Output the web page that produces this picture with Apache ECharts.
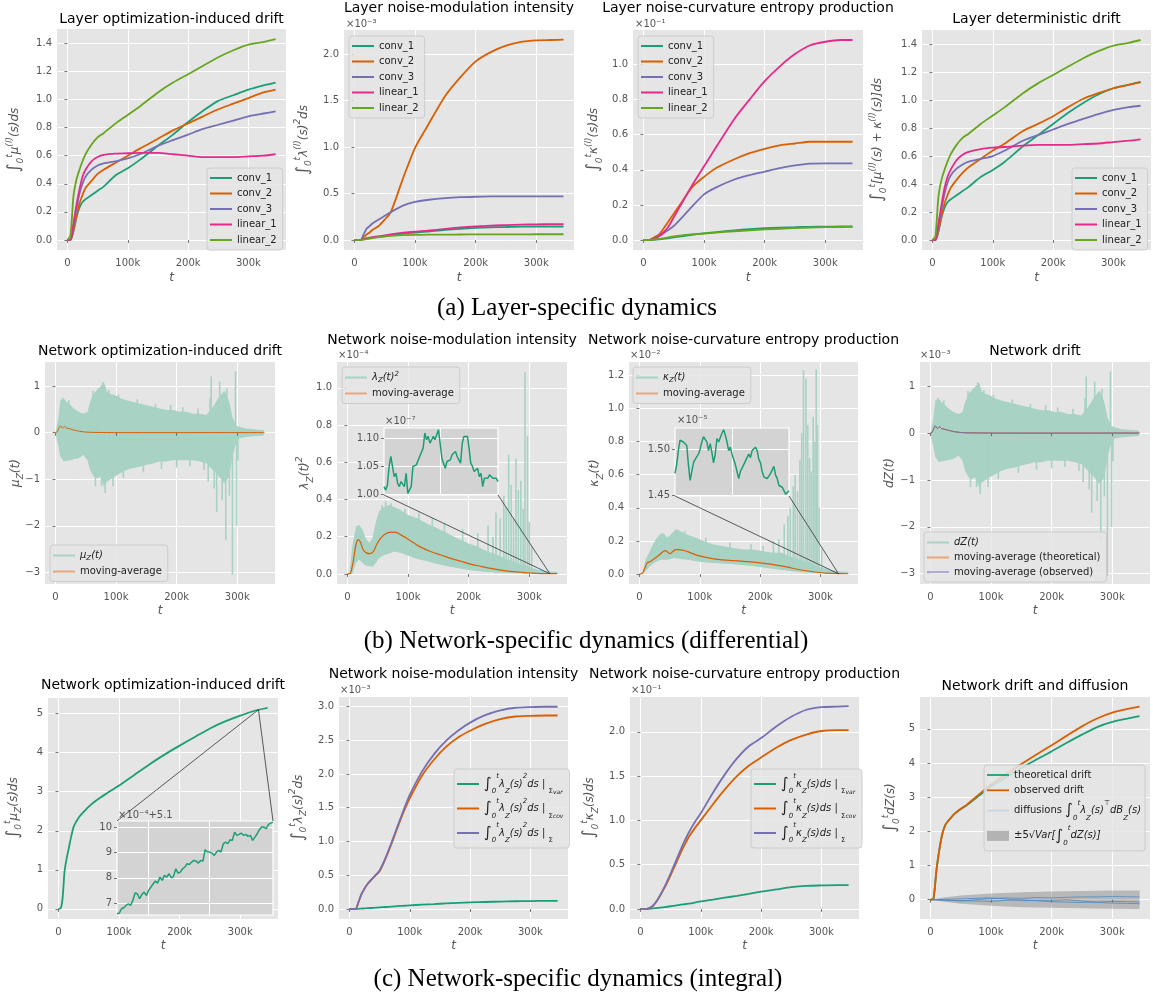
<!DOCTYPE html>
<html><head><meta charset="utf-8">
<script src="https://cdn.jsdelivr.net/npm/echarts@6.0.0/dist/echarts.min.js"></script>
<style>html,body{margin:0;padding:0;background:#fff;}#chart{width:1153px;height:996px;}</style>
</head><body><div id="chart"></div>
<script>
// ================= DATA =================
const X_TICKS = [0, 100000, 200000, 300000];

// ---- (a) layer-specific, common time grid ----
const T_LAYER = [0,5e3,10e3,15e3,20e3,25e3,30e3,40e3,50e3,60e3,80e3,100e3,120e3,150e3,175e3,200e3,225e3,250e3,275e3,300e3,325e3,345e3];
const MU_CONV1 = [0,0,0.06,0.16,0.23,0.27,0.29,0.32,0.35,0.38,0.46,0.51,0.57,0.67,0.75,0.84,0.92,0.99,1.03,1.07,1.10,1.12];
const MU_CONV2 = [0,0,0.07,0.17,0.26,0.32,0.37,0.42,0.47,0.50,0.55,0.60,0.65,0.72,0.78,0.83,0.88,0.93,0.97,1.01,1.05,1.07];
const MU_CONV3 = [0,0,0.10,0.22,0.33,0.40,0.45,0.50,0.53,0.545,0.56,0.58,0.61,0.67,0.71,0.75,0.79,0.82,0.85,0.88,0.90,0.915];
const MU_LIN1  = [0,0,0.12,0.25,0.36,0.45,0.50,0.56,0.59,0.605,0.615,0.617,0.62,0.62,0.61,0.60,0.59,0.59,0.59,0.595,0.60,0.61];
const MU_LIN2  = [0,0.03,0.31,0.43,0.50,0.56,0.61,0.68,0.73,0.76,0.83,0.89,0.95,1.05,1.12,1.18,1.24,1.30,1.35,1.39,1.41,1.43];

const LAM_CONV1 = [0,0,0,0.01,0.015,0.02,0.025,0.035,0.04,0.05,0.07,0.08,0.09,0.11,0.12,0.13,0.137,0.14,0.143,0.145,0.145,0.145];
const LAM_CONV2 = [0,0,0,0.03,0.06,0.08,0.11,0.15,0.22,0.30,0.66,0.99,1.22,1.55,1.75,1.92,2.02,2.09,2.13,2.147,2.15,2.153];
const LAM_CONV3 = [0,0,0,0.06,0.12,0.15,0.18,0.22,0.26,0.30,0.37,0.41,0.43,0.45,0.46,0.465,0.468,0.47,0.47,0.47,0.47,0.47];
const LAM_LIN1  = [0,0,0,0.01,0.02,0.025,0.03,0.04,0.05,0.06,0.08,0.09,0.10,0.12,0.135,0.145,0.155,0.16,0.165,0.168,0.17,0.17];
const LAM_LIN2  = [0,0,0,0.005,0.01,0.015,0.02,0.03,0.04,0.045,0.052,0.055,0.057,0.058,0.059,0.06,0.06,0.061,0.061,0.062,0.062,0.062];

const KAP_CONV1 = [0,0,0,0.001,0.002,0.003,0.005,0.01,0.015,0.02,0.03,0.038,0.045,0.055,0.062,0.067,0.071,0.073,0.075,0.076,0.077,0.077];
const KAP_CONV2 = [0,0,0,0.01,0.02,0.03,0.05,0.10,0.15,0.20,0.30,0.36,0.41,0.46,0.495,0.52,0.54,0.55,0.56,0.56,0.56,0.56];
const KAP_CONV3 = [0,0,0,0.005,0.01,0.02,0.03,0.055,0.08,0.115,0.19,0.26,0.30,0.345,0.37,0.39,0.41,0.425,0.435,0.437,0.437,0.437];
const KAP_LIN1  = [0,0,0,0.005,0.01,0.02,0.035,0.07,0.13,0.19,0.31,0.42,0.53,0.69,0.80,0.905,0.99,1.06,1.11,1.13,1.14,1.14];
const KAP_LIN2  = [0,0,0,0.002,0.004,0.006,0.008,0.014,0.02,0.025,0.032,0.037,0.042,0.05,0.055,0.06,0.064,0.068,0.071,0.073,0.074,0.075];

const DET_CONV1 = [0,0,0.06,0.16,0.23,0.27,0.29,0.32,0.35,0.38,0.45,0.50,0.56,0.67,0.75,0.83,0.91,0.98,1.04,1.085,1.11,1.13];
const DET_CONV2 = [0,0,0.07,0.17,0.26,0.32,0.37,0.43,0.48,0.52,0.58,0.64,0.69,0.78,0.83,0.885,0.95,1.01,1.05,1.085,1.11,1.127];
const DET_CONV3 = [0,0,0.10,0.22,0.33,0.41,0.46,0.51,0.54,0.56,0.58,0.60,0.64,0.71,0.75,0.79,0.83,0.866,0.90,0.93,0.95,0.96];
const DET_LIN1  = [0,0,0.12,0.25,0.37,0.45,0.50,0.57,0.61,0.63,0.65,0.66,0.665,0.675,0.68,0.68,0.68,0.685,0.69,0.70,0.71,0.72];
const DET_LIN2  = [0,0.03,0.31,0.43,0.50,0.56,0.61,0.68,0.73,0.76,0.83,0.89,0.95,1.05,1.12,1.18,1.24,1.30,1.35,1.39,1.41,1.43];

// ---- (b) network, differential: noisy envelopes, spikes [t, from, to], moving averages ----
const MUZ_T  = [0,5e3,8e3,14e3,19e3,25e3,30e3,38e3,46e3,53e3,57e3,63e3,68e3,74e3,80e3,85e3,90e3,98e3,107e3,117e3,128e3,139e3,150e3,161e3,172e3,183e3,194e3,205e3,216e3,227e3,238e3,249e3,260e3,270e3,279e3,287e3,292e3,298e3,303e3,314e3,331e3,344e3];
const MUZ_UP = [0,0.34,0.70,0.73,0.66,0.59,0.52,0.45,0.41,0.45,0.66,0.84,0.91,0.99,1.09,0.88,0.84,0.81,0.74,0.70,0.66,0.63,0.59,0.56,0.52,0.49,0.49,0.45,0.45,0.41,0.41,0.38,0.56,0.77,0.91,0.66,0.34,0.16,0.13,0.09,0.07,0.06];
const MUZ_LO = [0,-0.30,-0.51,-0.62,-0.60,-0.59,-0.57,-0.55,-0.48,-0.59,-0.80,-0.94,-0.98,-0.94,-1.16,-1.05,-1.01,-0.94,-0.87,-0.80,-0.76,-0.73,-0.69,-0.66,-0.62,-0.62,-0.59,-0.59,-0.59,-0.59,-0.62,-0.66,-0.80,-0.94,-1.09,-0.94,-0.51,-0.23,-0.12,-0.09,-0.07,-0.06];
const MUZ_SPIKES = [[12e3,0,0.75],[22e3,0,0.70],[62e3,0,0.90],[70e3,0,0.95],[78e3,0,1.08],[82e3,0,-1.30],[76e3,0,-1.15],[66e3,0,-1.15],[95e3,0,-1.15],[88e3,0,0.92],[104e3,0,0.82],[112e3,0,-0.98],[135e3,0,0.72],[145e3,0,-0.85],[165e3,0,0.62],[175e3,0,-0.78],[190e3,0,0.60],[200e3,0,-0.75],[210e3,0,0.55],[222e3,0,-0.72],[235e3,0,0.52],[245e3,0,-0.80],[252e3,0,-1.05],[255e3,0,0.75],[257e3,0,1.21],[262e3,0,-1.20],[266e3,0,-1.70],[271e3,0,1.10],[275e3,0,-1.45],[281e3,0,-2.30],[283e3,0,0.95],[287e3,0,-1.35],[292e3,0,-3.05],[297e3,0,1.32],[299e3,0,-2.00],[301e3,0,-0.60]];
const MUZ_MA_T = [0,3e3,5e3,8e3,10e3,12e3,15e3,18e3,22e3,27e3,33e3,40e3,50e3,60e3,80e3,100e3,150e3,200e3,250e3,300e3,345e3];
const MUZ_MA   = [0,0.02,0.08,0.15,0.12,0.10,0.14,0.10,0.09,0.07,0.05,0.03,0.015,0.008,0.005,0.003,0.002,0.002,0.003,0.003,0.003];

const LAMZ_T  = [3e3,8e3,14e3,19e3,25e3,30e3,36e3,41e3,47e3,52e3,60e3,69e3,77e3,88e3,100e3,115e3,132e3,148e3,165e3,181e3,198e3,214e3,231e3,247e3,264e3,280e3,297e3,313e3,330e3,346e3];
const LAMZ_UP = [0,0.148,0.255,0.264,0.237,0.192,0.166,0.19,0.28,0.335,0.36,0.37,0.36,0.344,0.317,0.30,0.27,0.246,0.219,0.192,0.166,0.148,0.121,0.103,0.077,0.059,0.041,0.023,0.014,0.011];
const LAMZ_LO = [0,0,0.059,0.077,0.059,0.045,0.041,0.037,0.059,0.085,0.10,0.11,0.121,0.112,0.098,0.080,0.068,0.053,0.041,0.032,0.023,0.016,0.011,0.007,0.005,0.004,0.004,0.003,0.002,0.002];
const LAMZ_SPIKES = [[57e3,0.15,0.37],[63e3,0.15,0.39],[72e3,0.16,0.38],[95e3,0.15,0.35],[118e3,0.12,0.33],[140e3,0.1,0.30],[160e3,0.08,0.27],[190e3,0.06,0.24],[215e3,0.04,0.22],[232e3,0.03,0.26],[240e3,0.02,0.20],[245e3,0.02,0.33],[252e3,0.01,0.30],[258e3,0.01,0.42],[262e3,0.01,0.36],[266e3,0.01,0.64],[270e3,0.01,0.48],[274e3,0.01,0.30],[278e3,0.01,0.62],[282e3,0.01,0.45],[286e3,0.01,0.50],[290e3,0.01,0.35],[293e3,0.01,1.085],[297e3,0.01,0.74],[300e3,0.01,0.28],[304e3,0.01,0.15]];
const LAMZ_MA_T = [0,5e3,10e3,14e3,18e3,22e3,26e3,32e3,37e3,43e3,48e3,55e3,63e3,71e3,80e3,88e3,99e3,110e3,121e3,137e3,154e3,170e3,187e3,203e3,220e3,236e3,253e3,269e3,286e3,302e3,324e3,346e3];
const LAMZ_MA   = [0,0.005,0.077,0.157,0.184,0.166,0.13,0.112,0.109,0.121,0.157,0.192,0.216,0.225,0.223,0.21,0.189,0.166,0.144,0.121,0.102,0.084,0.068,0.053,0.041,0.030,0.021,0.014,0.009,0.005,0.002,0.002];
const LAMZ_INSET = [1.0139,1.0078,1.0169,1.05,1.068,1.065,1.032,1.038,1.020,1.014,1.023,1.020,1.014,1.038,1.002,0.999,1.014,1.050,1.047,1.053,1.050,1.068,1.071,1.083,1.110,1.098,1.104,1.092,1.098,1.104,1.098,1.107,1.116,1.092,1.065,1.056,1.047,1.059,1.056,1.062,1.071,1.068,1.077,1.068,1.062,1.056,1.092,1.104,1.107,1.104,1.083,1.056,1.050,1.041,1.044,1.047,1.032,1.038,1.014,1.029,1.032,1.029,1.035,1.032,1.029,1.026,1.029,1.023];

const KAPZ_UP_T = [5e3,10e3,16e3,21e3,27e3,32e3,38e3,42e3,46e3,52e3,57e3,63e3,68e3,79e3,93e3,107e3,123e3,140e3,156e3,173e3,189e3,205e3,222e3,236e3,249e3,266e3,282e3,299e3,315e3,332e3,346e3];
const KAPZ_UP   = [0,0.087,0.128,0.168,0.208,0.233,0.249,0.239,0.219,0.239,0.259,0.269,0.259,0.239,0.219,0.198,0.178,0.168,0.158,0.148,0.148,0.138,0.128,0.128,0.107,0.087,0.067,0.043,0.026,0.016,0.014];
const KAPZ_LO_T = [5e3,10e3,16e3,24e3,35e3,46e3,57e3,68e3,85e3,101e3,123e3,151e3,178e3,205e3,233e3,260e3,288e3,315e3,346e3];
const KAPZ_LO   = [0,0.016,0.043,0.067,0.087,0.087,0.097,0.091,0.083,0.073,0.067,0.061,0.051,0.040,0.026,0.014,0.006,0.004,0.002];
const KAPZ_SPIKES = [[60e3,0.15,0.27],[75e3,0.15,0.26],[110e3,0.12,0.22],[150e3,0.1,0.19],[185e3,0.08,0.18],[205e3,0.07,0.17],[222e3,0.06,0.20],[231e3,0.05,0.21],[240e3,0.04,0.30],[246e3,0.03,0.35],[250e3,0.03,0.40],[255e3,0.02,0.53],[258e3,0.02,0.60],[262e3,0.02,0.50],[266e3,0.02,0.69],[269e3,0.01,0.85],[272e3,0.01,1.23],[276e3,0.01,1.18],[279e3,0.01,0.90],[282e3,0.01,0.70],[285e3,0.01,0.62],[288e3,0.01,0.95],[291e3,0.01,0.80],[293e3,0.01,1.235],[295e3,0.01,0.90],[298e3,0.01,0.40],[302e3,0.01,0.15]];
const KAPZ_MA_T = [0,5e3,9e3,13e3,19e3,24e3,30e3,35e3,40e3,43e3,47e3,51e3,54e3,60e3,65e3,74e3,85e3,98e3,112e3,134e3,156e3,178e3,200e3,222e3,244e3,266e3,288e3,310e3,346e3];
const KAPZ_MA   = [0,0.006,0.036,0.067,0.077,0.091,0.107,0.123,0.138,0.142,0.132,0.123,0.132,0.148,0.148,0.142,0.128,0.111,0.099,0.087,0.081,0.075,0.067,0.057,0.043,0.026,0.014,0.006,0.002];
const KAPZ_INSET = [1.4740,1.4836,1.4989,1.5103,1.5122,1.5084,1.5103,1.5046,1.4836,1.4664,1.4760,1.4855,1.4893,1.4874,1.4950,1.5008,1.5084,1.5141,1.5122,1.5084,1.4989,1.5065,1.4969,1.4855,1.4950,1.5122,1.5084,1.5103,1.5179,1.5218,1.5160,1.5084,1.4989,1.5027,1.4950,1.4931,1.4836,1.4760,1.4683,1.4760,1.4798,1.4836,1.4874,1.4893,1.4950,1.4912,1.4989,1.4969,1.5027,1.4989,1.4893,1.4855,1.4760,1.4702,1.4721,1.4683,1.4702,1.4740,1.4760,1.4817,1.4721,1.4683,1.4607,1.4626,1.4588,1.4569,1.4511,1.4492,1.4550];

// network drift dZ(t) (visually the same signal as mu_Z)
const DZ_T = MUZ_T, DZ_UP = MUZ_UP, DZ_LO = MUZ_LO, DZ_SPIKES = MUZ_SPIKES;
const DZ_MA_T   = MUZ_MA_T;
const DZ_MA_THEO = [0,0.02,0.08,0.15,0.12,0.10,0.14,0.10,0.09,0.07,0.05,0.03,0.015,0.008,0.005,0.003,0.002,0.002,0.003,0.003,0.003];
const DZ_MA_OBS  = [0,0.02,0.08,0.16,0.12,0.10,0.14,0.10,0.09,0.07,0.05,0.03,0.015,0.008,0.005,0.003,0.002,0.002,0.002,0.003,0.003];

// ---- (c) network, integral ----
const NETMU_T = [0,4e3,7e3,10e3,13e3,17e3,21e3,25e3,30e3,35e3,40e3,50e3,60e3,70e3,80e3,100e3,125e3,150e3,175e3,200e3,225e3,250e3,275e3,300e3,325e3,345e3];
const NETMU   = [0,0.02,0.3,0.95,1.25,1.55,1.85,2.1,2.25,2.37,2.46,2.62,2.75,2.86,2.96,3.16,3.43,3.70,3.95,4.18,4.40,4.62,4.80,4.95,5.08,5.15];
const NETMU_INSET = [6.579,6.605,6.776,6.816,6.908,6.974,6.908,7.105,7.395,7.368,7.171,7.342,7.434,7.303,7.500,7.632,7.763,7.868,7.789,8.026,7.895,8.092,8.026,8.158,8.000,8.053,8.355,8.184,8.224,8.355,8.421,8.553,8.526,8.618,8.684,8.658,8.579,8.684,8.658,9.105,9.013,9.013,8.974,8.882,9.013,9.079,9.013,9.342,9.408,9.342,9.500,9.474,9.803,9.671,9.711,9.763,9.671,9.711,9.632,9.671,9.474,9.605,9.737,9.895,10.000,10.000,9.934,10.105,10.158,10.197];

const T_INT = [0,5e3,10e3,15e3,20e3,25e3,30e3,40e3,50e3,60e3,70e3,80e3,90e3,100e3,120e3,140e3,160e3,180e3,200e3,225e3,250e3,275e3,300e3,325e3,345e3];
const LAMINT_VAR   = [0,0,0,0.003,0.006,0.009,0.012,0.018,0.024,0.03,0.036,0.042,0.048,0.054,0.064,0.073,0.082,0.09,0.097,0.104,0.11,0.115,0.118,0.12,0.12];
const LAMINT_COV   = [0,0,0,0.1,0.22,0.3,0.37,0.47,0.56,0.75,0.97,1.21,1.44,1.64,1.97,2.21,2.40,2.54,2.64,2.74,2.81,2.85,2.86,2.865,2.865];
const LAMINT_SIGMA = [0,0,0,0.1,0.22,0.3,0.37,0.47,0.57,0.76,0.99,1.23,1.47,1.69,2.03,2.29,2.49,2.64,2.76,2.87,2.94,2.98,2.99,2.995,2.995];
const KAPINT_VAR   = [0,0,0,0.002,0.005,0.008,0.012,0.02,0.03,0.04,0.05,0.06,0.072,0.085,0.105,0.127,0.148,0.17,0.195,0.22,0.245,0.26,0.265,0.268,0.268];
const KAPINT_COV   = [0,0,0,0.01,0.03,0.07,0.12,0.24,0.38,0.53,0.68,0.81,0.91,1.0,1.18,1.35,1.50,1.62,1.71,1.82,1.91,1.97,2.01,2.02,2.02];
const KAPINT_SIGMA = [0,0,0,0.01,0.03,0.07,0.12,0.25,0.40,0.56,0.72,0.86,0.98,1.08,1.31,1.52,1.70,1.84,1.93,2.06,2.17,2.25,2.28,2.285,2.29];

const T_NET = [0,5e3,10e3,15e3,20e3,25e3,30e3,40e3,50e3,60e3,80e3,100e3,125e3,150e3,175e3,200e3,225e3,250e3,275e3,300e3,325e3,345e3];
const DRIFT_OBS  = [0,0.03,0.88,1.5,1.95,2.2,2.32,2.52,2.66,2.78,3.08,3.37,3.67,3.97,4.25,4.52,4.80,5.07,5.30,5.47,5.58,5.65];
const DRIFT_THEO = [0,0.03,0.88,1.5,1.95,2.2,2.32,2.52,2.65,2.76,3.04,3.31,3.58,3.85,4.10,4.34,4.59,4.83,5.05,5.20,5.30,5.37];
const VAR5_T = [0,10e3,25e3,50e3,75e3,100e3,150e3,200e3,250e3,300e3,345e3];
const VAR5   = [0,0.03,0.07,0.12,0.15,0.18,0.22,0.24,0.255,0.265,0.27];
const DIFF_T = [0,25e3,50e3,75e3,100e3,125e3,150e3,175e3,200e3,225e3,250e3,275e3,300e3,325e3,345e3];
const DIFF_A = [0,-0.02,-0.04,0.0,0.03,0.05,0.04,0.06,0.05,0.07,0.08,0.08,0.09,0.085,0.08];
const DIFF_B = [0,-0.01,-0.03,-0.04,-0.05,-0.02,0.0,-0.03,-0.06,-0.07,-0.08,-0.07,-0.05,-0.06,-0.07];
const DIFF_C = [0,0.01,0.02,0.04,0.05,0.02,-0.03,-0.02,-0.02,0.0,-0.04,-0.08,-0.10,-0.11,-0.12];

// inset zoom targets on the main axes
const ZOOM6 = [334000, 0.001];
const ZOOM7 = [330000, 0.0015];
const ZOOM9 = [330000, 5.1];

// ================= STYLE / BUILD =================
const FONT = "'DejaVu Sans', sans-serif";
const GREY = '#555555';
const BG = '#e5e5e5';
const INSET_BG = '#d3d3d3';
const NOISE = '#a8d2c3';
const COL = {conv_1:'#1b9e77', conv_2:'#d95f02', conv_3:'#7570b3', linear_1:'#e7298a', linear_2:'#66a61e'};
const XMIN = -17250, XMAX = 362250;

const grids=[], xAxes=[], yAxes=[], series=[], legends=[], graphics=[];

function fmtX(v){ return v === 0 ? '0' : Math.round(v/1000) + 'k'; }
function fmtY(d){ return function(v){ return (v < -1e-9 ? '\u2212' : '') + Math.abs(v).toFixed(d); }; }
function range(a,b,s){ const r=[]; for(let v=a; v<=b+1e-9; v+=s) r.push(Math.round(v*1000)/1000); return r; }
function idx(arr){ return arr.map(function(_,k){ return k; }); }

function panel(o){
  const i = grids.length, z = o.z || 0;
  grids.push({left:o.l, top:o.t, width:o.w, height:o.h, show:true, backgroundColor:o.bg || BG,
    borderWidth:o.inset?1.2:0, borderColor:'#ffffff', z:z, containLabel:false, outerBoundsMode:'none'});
  const showX = !o.inset;
  const xt = o.xticks || X_TICKS;
  xAxes.push({type:'value', gridIndex:i, min:(o.xmin===undefined?XMIN:o.xmin), max:(o.xmax===undefined?XMAX:o.xmax), z:z+1,
    axisLine:{show:false},
    axisTick:{show:showX, customValues:xt, length:3, lineStyle:{color:GREY, width:0.8}},
    axisLabel:{show:showX, customValues:xt, formatter:fmtX, color:GREY, fontSize:10, fontFamily:FONT, margin:8.5},
    splitLine:{show:true, lineStyle:{color:'#ffffff', width:1}}});
  yAxes.push({type:'value', gridIndex:i, min:o.ymin, max:o.ymax, z:z+1,
    axisLine:{show:false},
    axisTick:{show:true, customValues:o.yticks, length:3, lineStyle:{color:GREY, width:0.8}},
    axisLabel:{show:true, customValues:o.yticks, formatter:fmtY(o.yd), color:GREY, fontSize:10, fontFamily:FONT, margin:5},
    splitLine:{show:true, lineStyle:{color:'#ffffff', width:1}}});
  return i;
}
function addLine(gi, name, T, V, color, o){
  o = o || {};
  const sm = (o.smooth===undefined ? 0.25 : o.smooth);
  series.push({type:'line', name:name, xAxisIndex:gi, yAxisIndex:gi,
    data:T.map(function(t,k){ return [t, V[k]]; }),
    symbol:'none', showSymbol:false, smooth:sm,
    lineStyle:{color:color, width:o.w||1.8, opacity:(o.op===undefined?1:o.op)}, itemStyle:{color:color},
    z:o.z||2, silent:true, animation:false});
}
function addBand(gi, name, TU, U, TL, L, color, z){
  series.push({type:'custom', name:name, xAxisIndex:gi, yAxisIndex:gi, data:[[TU[0], U[0]]],
    itemStyle:{color:color}, z:z||1, silent:true, animation:false,
    renderItem:function(p, api){
      const pts=[];
      for (let k=0;k<TU.length;k++) pts.push(api.coord([TU[k], U[k]]));
      for (let k=TL.length-1;k>=0;k--) pts.push(api.coord([TL[k], L[k]]));
      return {type:'polygon', shape:{points:pts}, style:{fill:color}};
    }});
}
function addSpikes(gi, name, S, color, w){
  series.push({type:'custom', name:name, xAxisIndex:gi, yAxisIndex:gi, data:S, encode:{x:0,y:2},
    itemStyle:{color:color}, z:1, silent:true, animation:false,
    renderItem:function(p, api){
      const a = api.coord([api.value(0), api.value(1)]), b = api.coord([api.value(0), api.value(2)]);
      return {type:'line', shape:{x1:a[0], y1:a[1], x2:b[0], y2:b[1]}, style:{stroke:color, lineWidth:w||1.5}};
    }});
}
function makeRich(base, color, lh, slh){
  function s(o){ return Object.assign({fontFamily:FONT, color:color, fill:color}, o); }
  const small = Math.round(base*0.72);
  return {
    m: s({fontSize:base, fontStyle:'italic', lineHeight:lh}),
    r: s({fontSize:base, lineHeight:lh}),
    I: s({fontSize:Math.round(base*1.45), lineHeight:lh}),
    b: s({fontSize:small, fontStyle:'italic', verticalAlign:'bottom', lineHeight:slh}),
    p: s({fontSize:small, fontStyle:'italic', verticalAlign:'top', lineHeight:slh}),
    s: s({fontSize:small, verticalAlign:'bottom', lineHeight:slh}),
    q: s({fontSize:Math.round(base*0.55), fontStyle:'italic', verticalAlign:'bottom', lineHeight:Math.round(slh*0.7)})
  };
}
const RICH_Y = makeRich(12, GREY, 20, 10);
const RICH_LS = makeRich(10, '#222', 13, 6);
const RICH_LB = makeRich(10, '#222', 22, 10);

const LEG_RICH_TEXT = {
  'μZ(t)': '{m|μ}{b|Z}{m|(t)}',
  'λZ(t)²': '{m|λ}{b|Z}{m|(t)}{p|2}',
  'κZ(t)': '{m|κ}{b|Z}{m|(t)}',
  'dZ(t)': '{m|dZ(t)}',
  '∫λZ²ds | Σvar': '{I|∫}{b|0}{p|t}{m|λ}{b|Z}{m|(s)}{p|2}{m|ds}{r| | }{s|Σ}{q|var}',
  '∫λZ²ds | Σcov': '{I|∫}{b|0}{p|t}{m|λ}{b|Z}{m|(s)}{p|2}{m|ds}{r| | }{s|Σ}{q|cov}',
  '∫λZ²ds | Σ': '{I|∫}{b|0}{p|t}{m|λ}{b|Z}{m|(s)}{p|2}{m|ds}{r| | }{s|Σ}',
  '∫κZds | Σvar': '{I|∫}{b|0}{p|t}{m|κ}{b|Z}{m|(s)ds}{r| | }{s|Σ}{q|var}',
  '∫κZds | Σcov': '{I|∫}{b|0}{p|t}{m|κ}{b|Z}{m|(s)ds}{r| | }{s|Σ}{q|cov}',
  '∫κZds | Σ': '{I|∫}{b|0}{p|t}{m|κ}{b|Z}{m|(s)ds}{r| | }{s|Σ}',
  'diffusions': '{r|diffusions }{I|∫}{b|0}{p|t}{m|λ}{b|Z}{m|(s)}{p|⊤}{m|dB}{b|Z}{m|(s)}',
  '±5√Var': '{r|±5√}{m|Var[}{I|∫}{b|0}{p|t}{m|dZ(s)]}'
};
function legFmt(name){ return LEG_RICH_TEXT[name] || name; }
function addLegend(o){
  legends.push({show:true, orient:'vertical', left:o.l, top:o.t, data:o.data,
    icon:o.icon||'rect', itemWidth:o.iw||22, itemHeight:o.ih||2, itemGap:(o.gap===undefined?3.5:o.gap),
    padding:o.pad||[4,6,4,3], backgroundColor:'rgba(229,229,229,0.85)', borderColor:'#cccccc', borderWidth:1, borderRadius:3,
    selectedMode:false, z:20,
    textStyle:{fontSize:10, color:'#222', fontFamily:FONT, lineHeight:12, rich:o.rich||RICH_LS}, formatter:legFmt});
}
function txt(x, y, text, o){
  o = o || {};
  graphics.push({type:'text', x:x, y:y, rotation:o.rot||0, z:50, silent:true,
    style:{text:text, fill:o.fill||'#000', fontSize:o.size||14, fontFamily:o.family||FONT,
      fontStyle:o.italic?'italic':'normal', align:o.align||'center', verticalAlign:'middle', rich:o.rich}});
}
const LAYER_NAMES = ['conv_1','conv_2','conv_3','linear_1','linear_2'];

// ---------- Row (a) ----------
const g1 = panel({l:57, t:29, w:229, h:221, ymin:-0.0715, ymax:1.5015, yticks:range(0,1.4,0.2), yd:1});
[MU_CONV1,MU_CONV2,MU_CONV3,MU_LIN1,MU_LIN2].forEach(function(V,k){ addLine(g1, LAYER_NAMES[k], T_LAYER, V, COL[LAYER_NAMES[k]]); });
addLegend({l:207, t:168, data:LAYER_NAMES});

const g2 = panel({l:344, t:30, w:230, h:220, ymin:-0.1075, ymax:2.2575, yticks:range(0,2,0.5), yd:1});
[LAM_CONV1,LAM_CONV2,LAM_CONV3,LAM_LIN1,LAM_LIN2].forEach(function(V,k){ addLine(g2, LAYER_NAMES[k], T_LAYER, V, COL[LAYER_NAMES[k]]); });
addLegend({l:349, t:36, data:LAYER_NAMES});

const g3 = panel({l:633, t:30, w:230, h:220, ymin:-0.057, ymax:1.197, yticks:range(0,1.0,0.2), yd:1});
[KAP_CONV1,KAP_CONV2,KAP_CONV3,KAP_LIN1,KAP_LIN2].forEach(function(V,k){ addLine(g3, LAYER_NAMES[k], T_LAYER, V, COL[LAYER_NAMES[k]]); });
addLegend({l:638, t:36, data:LAYER_NAMES});

const g4 = panel({l:922, t:30, w:229, h:220, ymin:-0.0715, ymax:1.5015, yticks:range(0,1.4,0.2), yd:1});
[DET_CONV1,DET_CONV2,DET_CONV3,DET_LIN1,DET_LIN2].forEach(function(V,k){ addLine(g4, LAYER_NAMES[k], T_LAYER, V, COL[LAYER_NAMES[k]]); });
addLegend({l:1072, t:168, data:LAYER_NAMES});

// ---------- Row (b) ----------
const g5 = panel({l:45, t:362, w:230, h:222, ymin:-3.25, ymax:1.52, yticks:[-3,-2,-1,0,1], yd:0});
addBand(g5, 'μZ(t)', MUZ_T, MUZ_UP, MUZ_T, MUZ_LO, NOISE, 1);
addSpikes(g5, 'μZ(t)', MUZ_SPIKES, NOISE, 1.6);
addLine(g5, 'moving-average', MUZ_MA_T, MUZ_MA, '#d95f02', {w:1, smooth:0.2, z:3});
addLegend({l:50, t:545, data:['μZ(t)', {name:'moving-average', itemStyle:{color:'#eaa57a'}}]});

const g6 = panel({l:337, t:362, w:230, h:222, ymin:-0.054, ymax:1.139, yticks:range(0,1.0,0.2), yd:1});
addBand(g6, 'λZ(t)²', LAMZ_T, LAMZ_UP, LAMZ_T, LAMZ_LO, NOISE, 1);
addSpikes(g6, 'λZ(t)²', LAMZ_SPIKES, NOISE, 1.6);
addLine(g6, 'moving-average', LAMZ_MA_T, LAMZ_MA, '#d95f02', {w:1.2, smooth:0.3, z:3});
addLegend({l:342, t:367, data:['λZ(t)²', {name:'moving-average', itemStyle:{color:'#eaa57a'}}]});
const i6 = panel({l:384, t:428, w:114, h:67, z:10, bg:INSET_BG, inset:true, xmin:0, xmax:LAMZ_INSET.length-1, xticks:[33], ymin:0.999, ymax:1.119, yticks:[1.00,1.05,1.10], yd:2});
addLine(i6, 'inset6', idx(LAMZ_INSET), LAMZ_INSET, '#1b9e77', {smooth:0, w:1.5, z:12});

const g7 = panel({l:629, t:362, w:229, h:222, ymin:-0.06, ymax:1.28, yticks:range(0,1.2,0.2), yd:1});
addBand(g7, 'κZ(t)', KAPZ_UP_T, KAPZ_UP, KAPZ_LO_T, KAPZ_LO, NOISE, 1);
addSpikes(g7, 'κZ(t)', KAPZ_SPIKES, NOISE, 1.6);
addLine(g7, 'moving-average', KAPZ_MA_T, KAPZ_MA, '#d95f02', {w:1.2, smooth:0.3, z:3});
addLegend({l:633, t:367, data:['κZ(t)', {name:'moving-average', itemStyle:{color:'#eaa57a'}}]});
const i7 = panel({l:675, t:428, w:114, h:68, z:10, bg:INSET_BG, inset:true, xmin:0, xmax:KAPZ_INSET.length-1, xticks:[34], ymin:1.4492, ymax:1.5237, yticks:[1.45,1.50], yd:2});
addLine(i7, 'inset7', idx(KAPZ_INSET), KAPZ_INSET, '#1b9e77', {smooth:0, w:1.5, z:12});

const g8 = panel({l:920, t:362, w:230, h:222, ymin:-3.22, ymax:1.52, yticks:[-3,-2,-1,0,1], yd:0});
addBand(g8, 'dZ(t)', DZ_T, DZ_UP, DZ_T, DZ_LO, NOISE, 1);
addSpikes(g8, 'dZ(t)', DZ_SPIKES, NOISE, 1.6);
addLine(g8, 'moving-average (theoretical)', DZ_MA_T, DZ_MA_THEO, '#d95f02', {w:1, smooth:0.2, z:3});
addLine(g8, 'moving-average (observed)', DZ_MA_T, DZ_MA_OBS, '#7570b3', {w:1, smooth:0.2, z:4});
addLegend({l:924, t:532, gap:2.5, data:['dZ(t)', {name:'moving-average (theoretical)', itemStyle:{color:'#eaa57a'}}, {name:'moving-average (observed)', itemStyle:{color:'#aeaad0'}}]});

// ---------- Row (c) ----------
const g9 = panel({l:48, t:698, w:230, h:221, ymin:-0.26, ymax:5.40, yticks:[0,1,2,3,4,5], yd:0});
addLine(g9, 'netmu', NETMU_T, NETMU, '#1b9e77', {w:1.8});
const i9 = panel({l:117, t:821, w:156, h:94, z:10, bg:INSET_BG, inset:true, xmin:0, xmax:NETMU_INSET.length-1, xticks:[14,41], ymin:6.53, ymax:10.24, yticks:[7,8,9,10], yd:0});
addLine(i9, 'inset9', idx(NETMU_INSET), NETMU_INSET, '#1b9e77', {smooth:0, w:1.5, z:12});

const g10 = panel({l:339, t:697, w:229, h:222, ymin:-0.148, ymax:3.139, yticks:range(0,3,0.5), yd:1});
addLine(g10, '∫λZ²ds | Σvar', T_INT, LAMINT_VAR, '#1b9e77');
addLine(g10, '∫λZ²ds | Σcov', T_INT, LAMINT_COV, '#d95f02');
addLine(g10, '∫λZ²ds | Σ', T_INT, LAMINT_SIGMA, '#7570b3');
addLegend({l:454, t:769, gap:2.5, rich:RICH_LB, data:['∫λZ²ds | Σvar','∫λZ²ds | Σcov','∫λZ²ds | Σ']});

const g11 = panel({l:630, t:697, w:229, h:222, ymin:-0.114, ymax:2.394, yticks:range(0,2,0.5), yd:1});
addLine(g11, '∫κZds | Σvar', T_INT, KAPINT_VAR, '#1b9e77');
addLine(g11, '∫κZds | Σcov', T_INT, KAPINT_COV, '#d95f02');
addLine(g11, '∫κZds | Σ', T_INT, KAPINT_SIGMA, '#7570b3');
addLegend({l:751, t:769, gap:2.5, rich:RICH_LB, data:['∫κZds | Σvar','∫κZds | Σcov','∫κZds | Σ']});

const g12 = panel({l:920, t:697, w:230, h:222, ymin:-0.566, ymax:5.93, yticks:[0,1,2,3,4,5], yd:0});
addBand(g12, '±5√Var', VAR5_T, VAR5, VAR5_T, VAR5.map(function(v){ return -v; }), 'rgba(128,128,128,0.45)', 1);
addLine(g12, 'diffusions', DIFF_T, DIFF_A, '#4a86c5', {w:0.9, op:0.85, smooth:0, z:2});
addLine(g12, 'diffusions', DIFF_T, DIFF_B, '#4a86c5', {w:0.9, op:0.85, smooth:0, z:2});
addLine(g12, 'diffusions', DIFF_T, DIFF_C, '#4a86c5', {w:0.9, op:0.85, smooth:0, z:2});
addLine(g12, 'theoretical drift', T_NET, DRIFT_THEO, '#1b9e77', {z:3});
addLine(g12, 'observed drift', T_NET, DRIFT_OBS, '#d95f02', {z:4});
const LINE_ICON = 'path://M0,0M22,10M0,4.1H22V5.9H0Z';
addLegend({l:984, t:765, gap:3.3, rich:RICH_LB, iw:22, ih:10, icon:'rect', pad:[4,4,4,3], data:[
  {name:'theoretical drift', icon:LINE_ICON}, {name:'observed drift', icon:LINE_ICON},
  {name:'diffusions', icon:LINE_ICON, itemStyle:{color:'#c9d6e4'}}, {name:'±5√Var', icon:'rect', itemStyle:{color:'#b3b3b3'}}]});

// ---------- texts ----------
const TITLES = [
  ['Layer optimization-induced drift', 171.5, 19], ['Layer noise-modulation intensity', 459, 8.5],
  ['Layer noise-curvature entropy production', 748, 8.5], ['Layer deterministic drift', 1036.5, 19],
  ['Network optimization-induced drift', 160, 351], ['Network noise-modulation intensity', 452, 340],
  ['Network noise-curvature entropy production', 743.5, 340], ['Network drift', 1035, 351],
  ['Network optimization-induced drift', 163, 685], ['Network noise-modulation intensity', 453.5, 674.5],
  ['Network noise-curvature entropy production', 744.5, 674.5], ['Network drift and diffusion', 1035, 686]
];
TITLES.forEach(function(t){ txt(t[1], t[2], t[0], {size:14}); });

const YLABELS = [
  ['{I|∫}{b|0}{p|t}{m|μ}{p|(l)}{m|(s)ds}', 15, 140],
  ['{I|∫}{b|0}{p|t}{m|λ}{p|(l)}{m|(s)}{p|2}{m|ds}', 303.5, 140],
  ['{I|∫}{b|0}{p|t}{m|κ}{p|(l)}{m|(s)ds}', 594, 140],
  ['{I|∫}{b|0}{p|t}{m|[μ}{p|(l)}{m|(s) + κ}{p|(l)}{m|(s)]ds}', 878, 140],
  ['{m|μ}{b|Z}{m|(t)}', 15.5, 473],
  ['{m|λ}{b|Z}{m|(t)}{p|2}', 305, 473],
  ['{m|κ}{b|Z}{m|(t)}', 595, 473],
  ['{m|dZ(t)}', 890, 473],
  ['{I|∫}{b|0}{p|t}{m|μ}{b|Z}{m|(s)ds}', 13.5, 808],
  ['{I|∫}{b|0}{p|t}{m|λ}{b|Z}{m|(s)}{p|2}{m|ds}', 298.5, 808],
  ['{I|∫}{b|0}{p|t}{m|κ}{b|Z}{m|(s)ds}', 590, 808],
  ['{I|∫}{b|0}{p|t}{m|dZ(s)}', 891, 808]
];
YLABELS.forEach(function(t){ txt(t[1], t[2], t[0], {rot:Math.PI/2, rich:RICH_Y, fill:GREY, size:12}); });

const XCENTERS = [[171.5,277.5],[459,277.5],[748,277.5],[1036.5,277.5],[160,610.5],[452,610.5],[743.5,610.5],[1035,610.5],[163,946],[453.5,946],[744.5,946],[1035,946]];
XCENTERS.forEach(function(c){ txt(c[0], c[1], 't', {italic:true, size:12, fill:GREY}); });

const OFFSETS = [['×10⁻³',346,24],['×10⁻¹',635,24],['×10⁻⁴',338,355],['×10⁻²',630,355],['×10⁻³',920,355],
  ['×10⁻³',340,690],['×10⁻¹',631,690],['×10⁻⁷',385,421],['×10⁻⁵',677,420],['×10⁻⁴+5.1',118,815.5]];
OFFSETS.forEach(function(t){ txt(t[1], t[2], t[0], {size:10, fill:GREY, align:'left'}); });

const CAPTIONS = [['(a) Layer-specific dynamics', 577, 308], ['(b) Network-specific dynamics (differential)', 586, 641], ['(c) Network-specific dynamics (integral)', 578, 979]];
CAPTIONS.forEach(function(t){ txt(t[1], t[2], t[0], {size:25, family:"'Liberation Serif', serif", fill:'#000'}); });

// ================= RENDER =================
const chart = echarts.init(document.getElementById('chart'), null, {renderer:'canvas', width:1153, height:996});
chart.setOption({animation:false, backgroundColor:'#ffffff', grid:grids, xAxis:xAxes, yAxis:yAxes, series:series, legend:legends, graphic:graphics});

const conns = [];
function connect(mainGi, target, insetGi, corners){
  const p = chart.convertToPixel({gridIndex:mainGi}, target);
  corners.forEach(function(c){
    const q = chart.convertToPixel({gridIndex:insetGi}, c);
    conns.push({type:'line', z:60, silent:true, shape:{x1:q[0], y1:q[1], x2:p[0], y2:p[1]}, style:{stroke:'#333333', lineWidth:0.8}});
  });
}
connect(g6, ZOOM6, i6, [[0, 0.999], [LAMZ_INSET.length-1, 0.999]]);
connect(g7, ZOOM7, i7, [[0, 1.4492], [KAPZ_INSET.length-1, 1.4492]]);
connect(g9, ZOOM9, i9, [[0, 10.24], [NETMU_INSET.length-1, 10.24]]);
chart.setOption({graphic:graphics.concat(conns)});
</script></body></html>
